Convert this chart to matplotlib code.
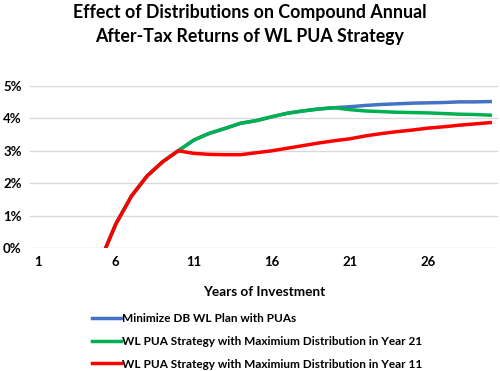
import matplotlib
matplotlib.use("Agg")
import matplotlib.pyplot as plt
import numpy as np

plt.rcParams['font.family'] = ['Lato', 'DejaVu Sans']

# Years 1-30 (values in %); early years are negative and fall below the axis
years = list(range(1, 31))
nan = np.nan
blue = [nan, nan, nan, nan, -0.4, 0.74, 1.6, 2.22, 2.66, 3.0,
        3.33, 3.54, 3.69, 3.85, 3.93, 4.05, 4.16, 4.23, 4.29, 4.33,
        4.36, 4.40, 4.43, 4.45, 4.47, 4.48, 4.49, 4.51, 4.51, 4.52]
green = [nan, nan, nan, nan, -0.4, 0.74, 1.6, 2.22, 2.66, 3.0,
         3.33, 3.54, 3.69, 3.85, 3.93, 4.05, 4.16, 4.23, 4.29, 4.33,
         4.27, 4.23, 4.21, 4.19, 4.18, 4.17, 4.15, 4.13, 4.12, 4.10]
red = [nan, nan, nan, nan, -0.4, 0.74, 1.6, 2.22, 2.66, 3.0,
       2.92, 2.89, 2.88, 2.88, 2.94, 3.0, 3.08, 3.16, 3.24, 3.31,
       3.37, 3.46, 3.53, 3.59, 3.64, 3.70, 3.74, 3.79, 3.83, 3.87]

labels = ["Minimize DB WL Plan with PUAs",
          "WL PUA Strategy with Maximium Distribution in Year 21",
          "WL PUA Strategy with Maximium Distribution in Year 11"]

fig = plt.figure(figsize=(5, 3.71), dpi=100)
ax = fig.add_axes([0.06, 0.3315, 0.936, 0.4367])

ax.plot(years, blue, color='#4472C4', lw=2.5, label=labels[0])
ax.plot(years, green, color='#00B050', lw=2.5, label=labels[1])
ax.plot(years, red, color='#FF0000', lw=2.5, label=labels[2])

ax.set_xlim(0.5, 30.5)
ax.set_ylim(0, 5)
ax.set_yticks(range(0, 6))
ax.set_yticklabels([f"{v}%" for v in range(0, 6)])
ax.set_xticks(range(1, 31, 5))
ax.grid(axis='y', color='#D9D9D9', lw=1)
ax.set_axisbelow(True)
for s in ax.spines.values():
    s.set_visible(False)
ax.tick_params(length=0, labelsize=9.5, pad=6)
for t in ax.get_xticklabels() + ax.get_yticklabels():
    t.set_fontweight('bold')
ax.set_xlabel("Years of Investment", fontsize=9.8, fontweight='bold', labelpad=13)

fig.suptitle("Effect of Distributions on Compound Annual\nAfter-Tax Returns of WL PUA Strategy",
             fontsize=12.8, fontweight='bold', y=0.99, linespacing=1.5)

leg = ax.legend(loc='upper left', bbox_to_anchor=(0.162, 0.185), bbox_transform=fig.transFigure,
                frameon=False, handlelength=2.5, handletextpad=0.1, labelspacing=1.0,
                prop={'weight': 'bold', 'size': 8.5})

fig.savefig("out.png", dpi=100)
